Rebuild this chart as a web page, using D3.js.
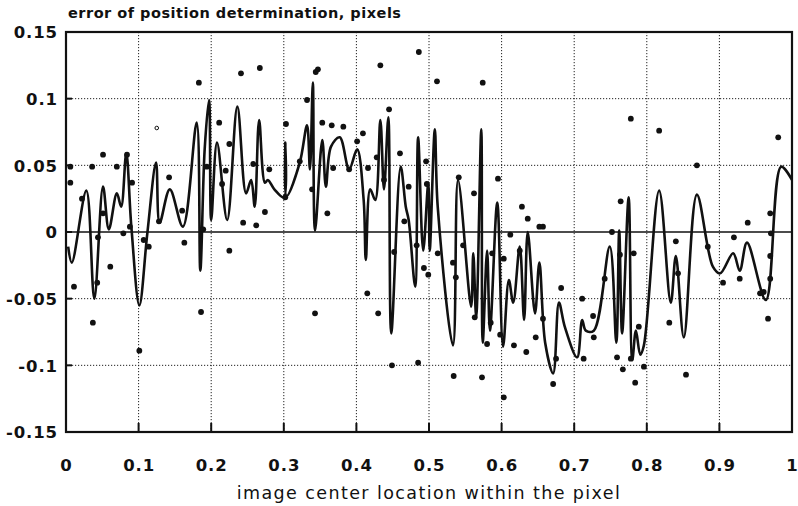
<!DOCTYPE html>
<html>
<head>
<meta charset="utf-8">
<script src="https://cdn.jsdelivr.net/npm/d3@7"></script>
<style>
  body { margin: 0; background: #fff; }
  text { font-family: "DejaVu Sans", sans-serif; fill: #111; }
</style>
</head>
<body>
<script>
// tick values and their printed labels
const xTicks = [0, 0.1, 0.2, 0.3, 0.4, 0.5, 0.6, 0.7, 0.8, 0.9, 1];
const xTickLabels = ['0', '0.1', '0.2', '0.3', '0.4', '0.5', '0.6', '0.7', '0.8', '0.9', '1'];
const yTicks = [0.15, 0.1, 0.05, 0, -0.05, -0.1, -0.15];
const yTickLabels = ['0.15', '0.1', '0.05', '0', '-0.05', '-0.1', '-0.15'];

// smoothed error curve [location, error]
const curvePoints = [
    [0.003, -0.011], [0.008, -0.023], [0.028, 0.031], [0.039, -0.050], [0.051, 0.034],
    [0.059, 0.002], [0.070, 0.029], [0.076, 0.019], [0.083, 0.059], [0.090, 0.004],
    [0.101, -0.055], [0.112, -0.001], [0.124, 0.052], [0.129, 0.007], [0.143, 0.032],
    [0.161, 0.004], [0.180, 0.082], [0.185, -0.029], [0.191, 0.062], [0.197, 0.099],
    [0.200, 0.009], [0.208, 0.067], [0.222, 0.009], [0.236, 0.094], [0.248, 0.029],
    [0.255, 0.039], [0.260, 0.019], [0.266, 0.084], [0.274, 0.037], [0.278, 0.039],
    [0.287, 0.032], [0.300, 0.026], [0.302, 0.067], [0.304, 0.027], [0.322, 0.052],
    [0.332, 0.080], [0.336, 0.047], [0.340, 0.112], [0.343, 0.001], [0.353, 0.069],
    [0.358, 0.034], [0.365, 0.064], [0.377, 0.071], [0.390, 0.047], [0.401, 0.062],
    [0.410, 0.024], [0.413, -0.021], [0.419, 0.032], [0.426, 0.024], [0.433, 0.084],
    [0.438, 0.032], [0.444, 0.086], [0.448, -0.076], [0.461, 0.049], [0.468, 0.019],
    [0.472, 0.009], [0.481, -0.041], [0.485, 0.071], [0.492, -0.014], [0.499, 0.037],
    [0.501, -0.014], [0.508, 0.077], [0.512, 0.019], [0.533, -0.085], [0.540, 0.039],
    [0.558, -0.056], [0.561, -0.016], [0.565, -0.064], [0.572, 0.077], [0.574, -0.083],
    [0.580, -0.014], [0.584, -0.074], [0.594, 0.022], [0.602, -0.086], [0.610, -0.036],
    [0.616, -0.053], [0.625, -0.011], [0.631, -0.066], [0.636, 0.000], [0.646, -0.061],
    [0.652, -0.023], [0.660, -0.083], [0.671, -0.106], [0.679, -0.053], [0.687, -0.071],
    [0.704, -0.094], [0.711, -0.066], [0.716, -0.074], [0.727, -0.074], [0.749, -0.011],
    [0.758, -0.083], [0.762, 0.001], [0.766, -0.076], [0.775, 0.026], [0.780, -0.096],
    [0.785, -0.074], [0.791, -0.092], [0.796, -0.085], [0.817, 0.031], [0.833, -0.053],
    [0.840, -0.018], [0.851, -0.079], [0.869, 0.028], [0.891, -0.026], [0.901, -0.031],
    [0.919, -0.016], [0.928, -0.029], [0.938, -0.008], [0.964, -0.051], [0.985, 0.049],
    [1.000, 0.039]
];

// measured points [location, error]
const measuredPoints = [
    [0.183, 0.112], [0.241, 0.119], [0.267, 0.123], [0.344, 0.120], [0.347, 0.122],
    [0.332, 0.099], [0.433, 0.125], [0.445, 0.092], [0.051, 0.058], [0.036, 0.049],
    [0.006, 0.049], [0.006, 0.037], [0.022, 0.025], [0.070, 0.049], [0.084, 0.058],
    [0.091, 0.037], [0.088, 0.004], [0.079, -0.001], [0.051, 0.014], [0.044, -0.004],
    [0.061, -0.026], [0.011, -0.041], [0.037, -0.068], [0.101, -0.089], [0.114, -0.011],
    [0.128, 0.008], [0.142, 0.041], [0.160, 0.016], [0.163, -0.008], [0.186, -0.060],
    [0.211, 0.082], [0.225, 0.066], [0.220, 0.046], [0.215, 0.036], [0.244, 0.007],
    [0.262, 0.005], [0.274, 0.015], [0.225, -0.014], [0.258, 0.051], [0.280, 0.047],
    [0.303, 0.081], [0.302, 0.026], [0.322, 0.053], [0.189, 0.002], [0.194, 0.049],
    [0.511, 0.113], [0.574, 0.112], [0.486, 0.135], [0.353, 0.082], [0.366, 0.080],
    [0.382, 0.079], [0.409, 0.074], [0.401, 0.068], [0.460, 0.059], [0.496, 0.053],
    [0.428, 0.056], [0.360, 0.014], [0.339, 0.032], [0.368, 0.048], [0.390, 0.047],
    [0.416, 0.048], [0.438, 0.039], [0.472, 0.034], [0.466, 0.008], [0.497, 0.036],
    [0.541, 0.041], [0.562, 0.029], [0.595, 0.040], [0.628, 0.019], [0.636, 0.010],
    [0.652, 0.004], [0.657, 0.004], [0.612, -0.002], [0.343, -0.061], [0.415, -0.046],
    [0.430, -0.061], [0.452, -0.015], [0.449, -0.100], [0.485, -0.098], [0.534, -0.108],
    [0.573, -0.109], [0.603, -0.124], [0.493, -0.027], [0.499, -0.032], [0.512, -0.016],
    [0.533, -0.023], [0.537, -0.034], [0.547, -0.010], [0.563, -0.064], [0.580, -0.084],
    [0.585, -0.068], [0.598, -0.077], [0.617, -0.085], [0.634, -0.090], [0.647, -0.079],
    [0.657, -0.065], [0.603, -0.020], [0.625, -0.014], [0.587, -0.016], [0.483, -0.010],
    [0.778, 0.085], [0.817, 0.076], [0.981, 0.071], [0.869, 0.050], [0.764, 0.023],
    [0.752, 0.000], [0.840, -0.007], [0.939, 0.007], [0.920, -0.004], [0.970, 0.014],
    [0.884, -0.011], [0.843, -0.031], [0.928, -0.035], [0.905, -0.038], [0.742, -0.035],
    [0.682, -0.042], [0.711, -0.050], [0.726, -0.063], [0.727, -0.079], [0.789, -0.071],
    [0.831, -0.068], [0.967, -0.065], [0.956, -0.046], [0.961, -0.045], [0.854, -0.107],
    [0.784, -0.113], [0.767, -0.103], [0.671, -0.114], [0.759, -0.094], [0.796, -0.101],
    [0.778, -0.095], [0.713, -0.095], [0.675, -0.095], [0.763, -0.017], [0.782, -0.016],
    [0.970, -0.018], [0.970, -0.035], [0.971, -0.001], [0.107, -0.006], [0.043, -0.038]
];
const openPoints = [[0.125, 0.078]];

const margin = {top: 32, right: 6, bottom: 74, left: 66};
const width = 798 - margin.left - margin.right,
    height = 506 - margin.top - margin.bottom;

const svg = d3.select('body')
    .append('svg')
    .attr('width', 798)
    .attr('height', 506);

const g = svg.append('g')
    .attr('transform', 'translate(' + margin.left + ',' + margin.top + ')');

const scaleX = d3.scaleLinear().domain([0, 1]).range([0, width]);
const scaleY = d3.scaleLinear().domain([-0.15, 0.15]).range([height, 0]);

// dotted grid
g.append('g').selectAll('line')
    .data(xTicks.slice(1, -1))
    .enter().append('line')
    .attr('x1', d => scaleX(d)).attr('x2', d => scaleX(d))
    .attr('y1', 0).attr('y2', height)
    .attr('stroke', '#222').attr('stroke-width', 1)
    .attr('stroke-dasharray', '1.2,1.8');

g.append('g').selectAll('line')
    .data(yTicks.filter(d => d !== 0 && Math.abs(d) !== 0.15))
    .enter().append('line')
    .attr('x1', 0).attr('x2', width)
    .attr('y1', d => scaleY(d)).attr('y2', d => scaleY(d))
    .attr('stroke', '#222').attr('stroke-width', 1)
    .attr('stroke-dasharray', '1.2,1.8');

// zero line
g.append('line')
    .attr('x1', 0).attr('x2', width)
    .attr('y1', scaleY(0)).attr('y2', scaleY(0))
    .attr('stroke', '#111').attr('stroke-width', 1.6);

// axes: labels only, inward ticks drawn by hand
const xAxis = d3.axisBottom(scaleX)
    .tickValues(xTicks)
    .tickFormat((d, i) => xTickLabels[i])
    .tickSize(0).tickPadding(27);
const yAxis = d3.axisLeft(scaleY)
    .tickValues(yTicks)
    .tickFormat((d, i) => yTickLabels[i])
    .tickSize(0).tickPadding(8);

const gX = g.append('g').attr('transform', 'translate(0,' + height + ')').call(xAxis);
const gY = g.append('g').call(yAxis);
[gX, gY].forEach(a => {
    a.select('.domain').remove();
    a.selectAll('text')
        .style('font-family', '"DejaVu Sans", sans-serif')
        .style('font-size', '16.5px')
        .style('font-weight', 'bold')
        .style('letter-spacing', '0.9px')
        .attr('fill', '#111');
});
gY.selectAll('text').attr('dy', '0.35em');

g.append('g').selectAll('line')
    .data(xTicks.slice(1, -1))
    .enter().append('line')
    .attr('x1', d => scaleX(d)).attr('x2', d => scaleX(d))
    .attr('y1', height).attr('y2', height - 9)
    .attr('stroke', '#111').attr('stroke-width', 2);

g.append('g').selectAll('line')
    .data(yTicks.slice(1, -1))
    .enter().append('line')
    .attr('x1', 0).attr('x2', 6)
    .attr('y1', d => scaleY(d)).attr('y2', d => scaleY(d))
    .attr('stroke', '#111').attr('stroke-width', 2);

// frame
g.append('rect')
    .attr('width', width).attr('height', height)
    .attr('fill', 'none').attr('stroke', '#111').attr('stroke-width', 2.2);

// curve
const line = d3.line()
    .x(d => scaleX(d[0]))
    .y(d => scaleY(d[1]))
    .curve(d3.curveCatmullRom.alpha(0.5));

g.append('path')
    .datum(curvePoints)
    .attr('d', line)
    .attr('fill', 'none')
    .attr('stroke', '#111')
    .attr('stroke-width', 2.6)
    .attr('stroke-linejoin', 'round');

// points
g.append('g').selectAll('circle')
    .data(measuredPoints)
    .enter().append('circle')
    .attr('cx', d => scaleX(d[0]))
    .attr('cy', d => scaleY(d[1]))
    .attr('r', 2.9)
    .attr('fill', '#111');

g.append('g').selectAll('circle')
    .data(openPoints)
    .enter().append('circle')
    .attr('cx', d => scaleX(d[0]))
    .attr('cy', d => scaleY(d[1]))
    .attr('r', 1.8)
    .attr('fill', 'none')
    .attr('stroke', '#111')
    .attr('stroke-width', 1);

// titles
svg.append('text')
    .attr('x', 68).attr('y', 18)
    .style('font-size', '14.5px')
    .style('font-weight', 'bold')
    .style('letter-spacing', '0.5px')
    .text('error of position determination, pixels');

svg.append('text')
    .attr('x', margin.left + width / 2).attr('y', 499)
    .attr('text-anchor', 'middle')
    .style('font-size', '17.5px')
    .style('letter-spacing', '1.4px')
    .text('image center location within the pixel');
</script>
</body>
</html>
